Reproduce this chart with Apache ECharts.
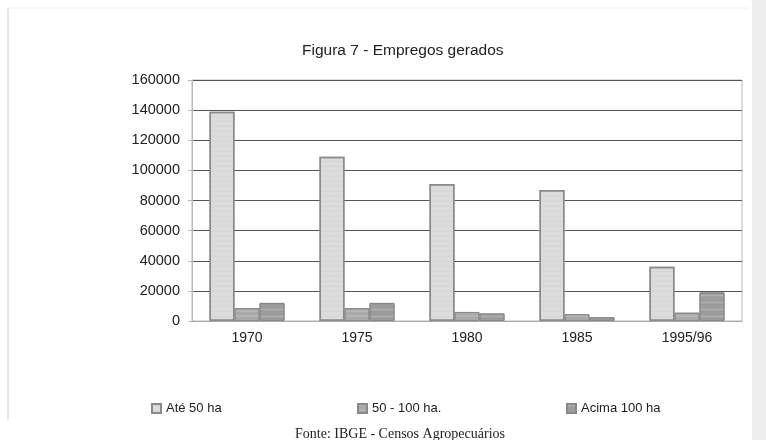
<!DOCTYPE html>
<html>
<head>
<meta charset="utf-8">
<script src="https://cdn.jsdelivr.net/npm/echarts@6/dist/echarts.min.js"></script>
<style>
 html,body{margin:0;padding:0;background:#fff;}
 #chart{width:766px;height:440px;}
</style>
</head>
<body>
<div id="chart"></div>
<script>
// data
const categories = ['1970', '1975', '1980', '1985', '1995/96'];
const ate50 = [139000, 109000, 91000, 87000, 36000];
const de50a100 = [8500, 8500, 6000, 4500, 5500];
const acima100 = [12000, 12000, 5000, 2500, 19000];
const yTicks = [0, 20000, 40000, 60000, 80000, 100000, 120000, 140000, 160000];
const legendNames = ['Até 50 ha', '50 - 100 ha.', 'Acima 100 ha'];

const chart = echarts.init(document.getElementById('chart'));

const legendText = {fontFamily: 'Liberation Sans', fontSize: 13, color: '#222'};
const legendLeft = [146, 352, 561];

const option = {
    backgroundColor: '#fff',
    animation: false,
    title: [
        {
            text: 'Figura 7 - Empregos gerados',
            left: 297,
            top: 38,
            textStyle: {fontFamily: 'Liberation Sans', fontSize: 15.5, fontWeight: 'normal', color: '#222'}
        },
        {
            text: 'Fonte: IBGE - Censos Agropecuários',
            left: 290,
            top: 422,
            textStyle: {fontFamily: 'Liberation Serif', fontSize: 14, fontWeight: 'normal', color: '#222'}
        }
    ],
    legend: legendNames.map((n, i) => ({
        data: [n],
        left: legendLeft[i],
        top: 397,
        itemWidth: 9,
        itemHeight: 9,
        itemGap: 0,
        icon: 'rect',
        textStyle: legendText
    })),
    grid: {left: 192, right: 24, top: 80, bottom: 119, show: true, borderColor: '#bbb', borderWidth: 1},
    xAxis: {
        type: 'category',
        data: categories,
        axisLine: {lineStyle: {color: '#aaa'}},
        axisTick: {show: false},
        axisLabel: {fontFamily: 'Liberation Sans', fontSize: 14, color: '#222', margin: 10}
    },
    yAxis: {
        type: 'value',
        min: yTicks[0],
        max: yTicks[yTicks.length - 1],
        interval: 20000,
        axisLine: {show: true, lineStyle: {color: '#bbb'}},
        axisTick: {show: true, length: 4, lineStyle: {color: '#bbb'}},
        axisLabel: {fontFamily: 'Liberation Sans', fontSize: 14.5, color: '#222', margin: 12,
            formatter: v => String(v)},
        splitLine: {lineStyle: {color: '#555', width: 1}}
    },
    series: [
        {
            name: legendNames[0],
            type: 'bar',
            barWidth: 25,
            barGap: '0%',
            data: ate50,
            itemStyle: {color: '#dcdcdc', borderColor: '#8a8a8a', borderWidth: 1.5,
                decal: {symbol: 'circle', symbolSize: 0.5, dashArrayX: [1, 0], dashArrayY: [2, 3], color: 'rgba(120,120,120,0.35)'}}
        },
        {
            name: legendNames[1],
            type: 'bar',
            barWidth: 25,
            data: de50a100,
            itemStyle: {color: '#a9a9a9', borderColor: '#8a8a8a', borderWidth: 1,
                decal: {symbol: 'rect', symbolSize: 0.6, dashArrayX: [1, 0], dashArrayY: [2, 3], color: 'rgba(240,240,240,0.5)'}}
        },
        {
            name: legendNames[2],
            type: 'bar',
            barWidth: 25,
            data: acima100,
            itemStyle: {color: '#9c9c9c', borderColor: '#888', borderWidth: 1,
                decal: {symbol: 'rect', symbolSize: 0.5, dashArrayX: [1, 0], dashArrayY: [3, 4], color: 'rgba(235,235,235,0.5)'}}
        }
    ],
    graphic: [
        {type: 'line', shape: {x1: 8, y1: 8, x2: 8, y2: 420}, style: {stroke: '#ccc', lineWidth: 1}},
        {type: 'line', shape: {x1: 8, y1: 8, x2: 748, y2: 8}, style: {stroke: '#eee', lineWidth: 1}},
        {type: 'rect', shape: {x: 752, y: 0, width: 14, height: 440}, style: {fill: '#eeeeee'}}
    ]
};

chart.setOption(option);
</script>
</body>
</html>
